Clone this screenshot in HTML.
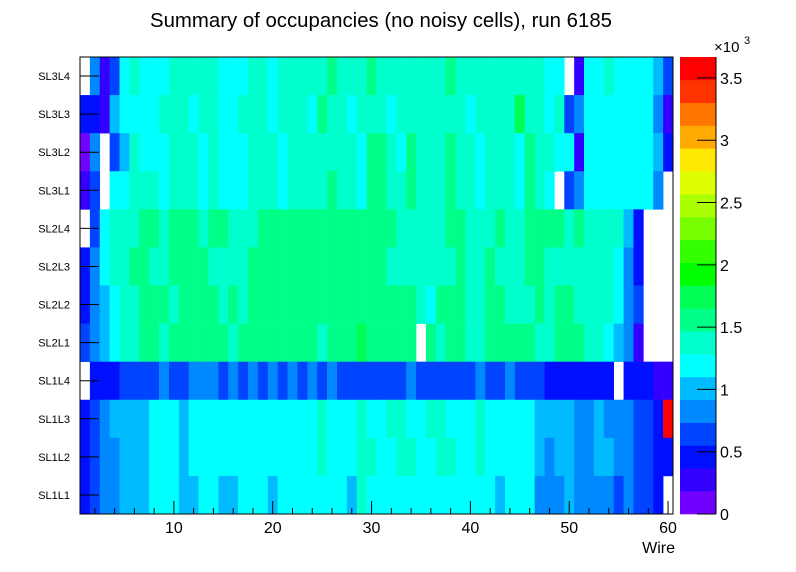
<!DOCTYPE html>
<html><head><meta charset="utf-8"><style>
html,body{margin:0;padding:0;background:#fff;}
svg{display:block;font-family:"Liberation Sans",Arial,sans-serif;}
</style></head><body>
<svg id="chart" width="796" height="572" viewBox="0 0 796 572" xmlns="http://www.w3.org/2000/svg">
<rect width="796" height="572" fill="#fff"/>
<text x="381" y="27" font-size="20" text-anchor="middle" textLength="462" lengthAdjust="spacingAndGlyphs">Summary of occupancies (no noisy cells), run 6185</text>
<g id="cells"></g>
<g id="axes"></g>
<g id="cbar"></g>
</svg>
<script>
const layers = ["SL3L4","SL3L3","SL3L2","SL3L1","SL2L4","SL2L3","SL2L2","SL2L1","SL1L4","SL1L3","SL1L2","SL1L1"];
const xTicks = [10,20,30,40,50,60];
const zTicks = [0,500,1000,1500,2000,2500,3000,3500];
const zTickLabels = ["0","0.5","1","1.5","2","2.5","3","3.5"];
const palette = ["#7000ff","#3300ff","#0010ff","#0044ff","#0088ff","#00bbff","#00ffff","#00ffcc","#00ff88","#00ff55","#00ff00","#33ff00","#77ff00","#aaff00","#ddff00","#ffe800","#ffaa00","#ff7700","#ff3300","#ff0000"];
const zMax = 3668;
// occupancy values per layer, wires 1..60 (top row first)
const rowSL3L4 = [0,830,280,640,1190,1380,1190,1190,1190,1380,1380,1380,1380,1380,1190, 1190,1190,1380,1380,1190,1380,1380,1380,1380,1380,1560,1380,1380,1380,1560, 1380,1380,1380,1380,1380,1380,1380,1560,1380,1380,1380,1380,1380,1380,1380, 1380,1380,1190,1190,0,280,1190,1190,1380,1190,1190,1190,1190,1010,640];
const rowSL3L3 = [460,460,280,1010,1190,1190,1190,1190,1380,1380,1380,1190,1380,1380,1190, 1190,1380,1380,1380,1190,1380,1380,1380,1190,1560,1380,1380,1190,1380,1380, 1380,1190,1380,1380,1380,1380,1380,1380,1380,1190,1380,1380,1380,1380,1740, 1380,1380,1190,1380,640,830,1190,1190,1190,1190,1190,1190,1190,830,280];
const rowSL3L2 = [90,830,0,640,1010,1380,1190,1190,1190,1380,1380,1380,1190,1380,1190, 1190,1190,1380,1380,1380,1190,1380,1380,1380,1380,1380,1380,1380,1190,1560, 1560,1380,1190,1560,1380,1380,1380,1560,1380,1380,1190,1380,1380,1380,1190, 1560,1380,1380,1190,1190,280,1190,1190,1190,1190,1190,1190,1190,1010,460];
const rowSL3L1 = [280,640,0,1190,1190,1380,1380,1380,1190,1380,1380,1380,1190,1380,1190, 1190,1190,1380,1380,1380,1190,1380,1380,1380,1380,1560,1380,1380,1190,1560, 1560,1380,1380,1560,1380,1380,1380,1560,1380,1380,1190,1380,1380,1380,1190, 1560,1380,1190,0,640,830,1190,1190,1190,1190,1190,1190,1190,830,0];
const rowSL2L4 = [0,640,1190,1380,1380,1380,1560,1560,1380,1560,1560,1560,1380,1560,1560, 1380,1380,1380,1560,1560,1560,1560,1560,1560,1560,1560,1560,1560,1560,1560, 1560,1560,1380,1380,1380,1380,1380,1560,1560,1380,1380,1380,1560,1380,1380, 1560,1560,1560,1560,1380,1560,1380,1380,1380,1380,1010,460,0,0,0];
const rowSL2L3 = [460,830,1190,1380,1380,1560,1560,1380,1380,1560,1560,1560,1560,1380,1380, 1380,1380,1560,1560,1560,1560,1560,1560,1560,1560,1560,1560,1560,1560,1560, 1560,1380,1380,1380,1380,1380,1380,1380,1560,1380,1380,1560,1380,1380,1380, 1560,1560,1380,1380,1380,1380,1380,1380,1380,1190,830,460,0,0,0];
const rowSL2L2 = [460,830,1010,1190,1380,1380,1560,1560,1560,1380,1560,1560,1560,1560,1380, 1560,1380,1560,1560,1560,1560,1560,1560,1560,1560,1560,1560,1560,1560,1560, 1560,1560,1560,1560,1380,1190,1560,1560,1560,1380,1380,1560,1560,1380,1380, 1380,1560,1380,1560,1560,1380,1380,1380,1380,1190,830,640,0,0,0];
const rowSL2L1 = [640,830,1010,1190,1380,1380,1560,1560,1380,1560,1560,1560,1560,1560,1560, 1380,1560,1560,1560,1560,1560,1560,1560,1560,1380,1560,1560,1560,1740,1560, 1560,1560,1560,1560,0,1560,1380,1560,1560,1380,1380,1560,1560,1560,1560, 1560,1380,1380,1560,1560,1560,1380,1380,1190,1010,830,280,0,0,0];
const rowSL1L4 = [0,460,460,460,640,640,640,640,830,640,640,830,830,830,640, 830,640,830,640,830,640,830,640,830,640,830,640,640,640,640, 640,640,640,830,640,640,640,640,640,640,830,640,640,830,640, 640,640,460,460,460,460,460,460,460,0,460,460,460,280,280];
const rowSL1L3 = [460,640,830,1010,1010,1010,1010,1190,1190,1190,1010,1190,1190,1190,1190, 1190,1190,1190,1190,1190,1190,1190,1190,1190,1380,1190,1190,1190,1380,1190, 1190,1380,1380,1190,1190,1380,1380,1190,1190,1190,1380,1190,1190,1190,1190, 1190,1010,1010,1010,1010,830,830,1010,830,830,830,640,640,460,3580];
const rowSL1L2 = [460,640,830,830,1010,1010,1010,1190,1190,1190,1010,1190,1190,1190,1190, 1190,1190,1190,1190,1190,1190,1190,1190,1190,1380,1190,1190,1190,1380,1380, 1190,1190,1380,1380,1190,1190,1380,1380,1190,1190,1380,1190,1190,1190,1190, 1190,1010,830,1010,1010,830,830,1010,1010,830,830,640,640,460,460];
const rowSL1L1 = [460,640,830,830,1010,1010,1010,1190,1190,1190,1010,1010,1190,1190,1010, 1010,1190,1190,1190,1010,1190,1190,1190,1190,1190,1190,1190,1010,1380,1190, 1190,1190,1190,1190,1190,1190,1190,1190,1190,1190,1190,1190,1010,1190,1190, 1190,830,830,830,1010,830,830,830,830,640,830,640,640,460,0];
const rows = [rowSL3L4,rowSL3L3,rowSL3L2,rowSL3L1,rowSL2L4,rowSL2L3,rowSL2L2,rowSL2L1,rowSL1L4,rowSL1L3,rowSL1L2,rowSL1L1];

const NS = "http://www.w3.org/2000/svg";
const X0 = 80, X1 = 673, Y0 = 57, Y1 = 514;
const xMin = 0.5, xMax = 60.5;
function xs(w){ return X0 + (w - xMin) / (xMax - xMin) * (X1 - X0); }
function ys(i){ return Y0 + i * (Y1 - Y0) / layers.length; }
function zs(v){ return Y1 - v / zMax * (Y1 - Y0); }
function colorOf(v){ let k = Math.floor(v / zMax * palette.length); if (k > palette.length-1) k = palette.length-1; if (k < 0) k = 0; return palette[k]; }
function mk(tag, attrs, parent){ const e = document.createElementNS(NS, tag); for (const k in attrs) e.setAttribute(k, attrs[k]); parent.appendChild(e); return e; }

const cells = document.getElementById("cells");
rows.forEach((row, i) => {
  row.forEach((v, j) => {
    if (v <= 0) return;
    const w = j + 1;
    const x = xs(w - 0.5), x2 = xs(w + 0.5);
    const r = mk("rect", {x: x.toFixed(2), y: ys(i).toFixed(2), width: (x2 - x + 0.3).toFixed(2), height: (ys(i+1) - ys(i) + 0.3).toFixed(2), fill: colorOf(v)}, cells);
    
    
  });
});

const axes = document.getElementById("axes");
const frame = mk("rect", {x: X0, y: Y0, width: X1 - X0, height: Y1 - Y0, fill: "none", stroke: "#000", "stroke-width": 1}, axes);


layers.forEach((name, i) => {
  const yc = (ys(i) + ys(i+1)) / 2;
  const t = mk("line", {x1: X0, x2: X0 + 19, y1: yc, y2: yc, stroke: "#000", "stroke-width": 1}, axes);
  
  
  const l = mk("text", {x: 70, y: yc + 4, "font-size": 11, "text-anchor": "end"}, axes);
  l.textContent = name;
  
  
});
for (let w = 2; w <= 60; w += 2) {
  const major = xTicks.indexOf(w) >= 0;
  const t = mk("line", {x1: xs(w), x2: xs(w), y1: Y1, y2: Y1 - (major ? 13 : 6), stroke: "#000", "stroke-width": 1}, axes);
  
  
}
xTicks.forEach(w => {
  const l = mk("text", {x: xs(w), y: 533, "font-size": 16, "text-anchor": "middle"}, axes);
  l.textContent = String(w);
  
  
});
const xt = mk("text", {x: 675, y: 553, "font-size": 16, "text-anchor": "end"}, axes);
xt.textContent = "Wire";



const cbar = document.getElementById("cbar");
const CX0 = 680, CX1 = 716;
palette.forEach((c, k) => {
  const v0 = k * zMax / palette.length, v1 = (k + 1) * zMax / palette.length;
  const r = mk("rect", {x: CX0, y: zs(v1).toFixed(2), width: CX1 - CX0, height: (zs(v0) - zs(v1) + 0.3).toFixed(2), fill: c}, cbar);
  
  
});
const cl = mk("line", {x1: CX1, x2: CX1, y1: Y0, y2: Y1, stroke: "#000", "stroke-width": 1}, cbar);


zTicks.forEach((v, k) => {
  const t = mk("line", {x1: CX1 - 19, x2: CX1, y1: zs(v), y2: zs(v), stroke: "#000", "stroke-width": 1}, cbar);
  
  
  const l = mk("text", {x: 720, y: zs(v) + 6, "font-size": 16}, cbar);
  l.textContent = zTickLabels[k];
  
  
});
const ex = mk("text", {x: 714, y: 52, "font-size": 15}, cbar);
ex.textContent = "×10";


const ex3 = mk("text", {x: 744, y: 44, "font-size": 11}, cbar);
ex3.textContent = "3";


</script>
</body></html>
